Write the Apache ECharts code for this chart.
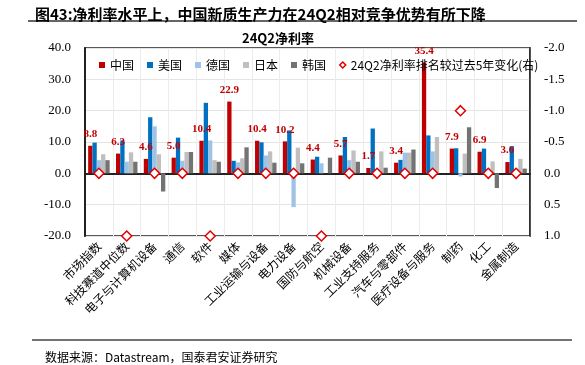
<!DOCTYPE html>
<html>
<head>
<meta charset="utf-8">
<script src="https://cdn.jsdelivr.net/npm/echarts@6/dist/echarts.min.js"></script>
<style>html,body{margin:0;padding:0;background:#fff}#c{width:585px;height:365px}</style>
</head>
<body>
<div id="c"></div>
<script>
var categories = ['市场指数','科技赛道中位数','电子与计算机设备','通信','软件','媒体','工业运输与设备','电力设备','国防与航空','机械设备','工业支持服务','汽车与零部件','医疗设备与服务','制药','化工','金属制造'];
var china   = [8.8, 6.3, 4.6, 5.0, 10.4, 22.9, 10.4, 10.2, 4.4, 5.7, 1.7, 3.4, 35.4, 7.9, 6.9, 3.6];
var usa     = [9.8, 10.5, 17.9, 11.4, 22.5, 4.0, 9.9, 13.7, 5.3, 11.6, 14.3, 4.3, 12.1, 8.0, 7.9, 8.6];
var germany = [4.2, 3.7, 15.0, 4.0, 10.5, 3.5, 5.7, -10.8, 3.2, 4.2, 0, 6.6, 7.0, -1.0, 0, 0];
var japan   = [6.1, 6.7, 6.1, 6.8, 4.2, 4.8, 7.0, 8.2, 0, 7.3, 7.0, 6.6, 11.6, 6.3, 3.8, 4.6];
var korea   = [4.2, 3.7, -5.8, 6.8, 3.7, 8.3, 3.4, 3.2, 5.0, 3.7, 1.8, 7.6, 0, 14.7, -4.7, 1.5];
var rankChange = [0, 1, 0, 0, 1, 0, 0, 0, 1, 0, 0, 0, 0, -1, 0, 0];
var leftTicks = {min: -20, max: 40, interval: 10};
var rightTicks = {min: -2, max: 1, interval: 0.5};

var CJK = '"Noto Sans CJK SC", sans-serif';
var SERIF = '"Liberation Serif", "Times New Roman", serif';

var chart = echarts.init(document.getElementById('c'), null, {renderer: 'canvas'});
function bar(name, data, color, withLabel) {
  var s = {
    name: name, type: 'bar', data: data, barWidth: 4.3, barGap: '0%',
    itemStyle: {color: color}
  };
  if (withLabel) {
    s.label = {show: true, position: 'top', distance: 6, color: '#C00000',
      fontFamily: SERIF, fontWeight: 'bold', fontSize: 11,
      formatter: function (p) { return p.value.toFixed(1); }};
  }
  return s;
}
var option = {
  animation: false,
  backgroundColor: '#fff',
  title: [
    {text: '图43:净利率水平上，中国新质生产力在24Q2相对竞争优势有所下降', left: 30, top: 2,
     textStyle: {fontFamily: CJK, fontSize: 15, fontWeight: 'bold', color: '#000'}},
    {text: '24Q2净利率', left: 237, top: 27,
     textStyle: {fontFamily: CJK, fontSize: 13, fontWeight: 'bold', color: '#000'}},
    {text: '数据来源：Datastream，国泰君安证券研究', left: 40, top: 346,
     textStyle: {fontFamily: CJK, fontSize: 12, fontWeight: 'normal', color: '#000'}}
  ],
  graphic: [
    {type: 'line', shape: {x1: 28, y1: 21, x2: 577, y2: 21}, style: {stroke: '#333', lineWidth: 1.5}},
    {type: 'line', shape: {x1: 32, y1: 340, x2: 572, y2: 340}, style: {stroke: '#444', lineWidth: 1.5}}
  ],
  legend: {
    left: 94, top: 54, itemWidth: 6, itemHeight: 6, itemGap: 13,
    textStyle: {fontFamily: CJK, fontSize: 12, color: '#000'},
    data: [
      {name: '中国', icon: 'rect'}, {name: '美国', icon: 'rect'}, {name: '德国', icon: 'rect'},
      {name: '日本', icon: 'rect'}, {name: '韩国', icon: 'rect'},
      {name: '24Q2净利率排名较过去5年变化(右)', icon: 'diamond',
       itemStyle: {color: '#fff', borderColor: '#E00000', borderWidth: 1.5}}
    ]
  },
  grid: {left: 85, right: 55, top: 48, bottom: 129, show: true, borderColor: '#222', borderWidth: 1.5},
  xAxis: {
    type: 'category', data: categories,
    axisLine: {show: true, lineStyle: {color: '#222', width: 2}},
    axisTick: {show: false},
    splitLine: {show: true, lineStyle: {color: '#ECECEC', width: 1}},
    axisLabel: {interval: 0, rotate: 45, margin: 8, fontFamily: CJK, fontSize: 12, color: '#000'}
  },
  yAxis: [
    {type: 'value', min: leftTicks.min, max: leftTicks.max, interval: leftTicks.interval,
     axisLine: {show: true, lineStyle: {color: '#222', width: 2}},
     axisTick: {show: false},
     splitLine: {show: true, lineStyle: {color: '#E4E4E4', width: 1}},
     axisLabel: {margin: 14, fontFamily: SERIF, fontSize: 13, color: '#000',
       formatter: function (v) { return v.toFixed(1); }}},
    {type: 'value', min: rightTicks.min, max: rightTicks.max, interval: rightTicks.interval, inverse: true,
     position: 'right',
     axisLine: {show: true, lineStyle: {color: '#222', width: 1.5}},
     axisTick: {show: false},
     splitLine: {show: false},
     axisLabel: {margin: 14, fontFamily: SERIF, fontSize: 13, color: '#000',
       formatter: function (v) { return v.toFixed(1); }}}
  ],
  series: [
    bar('中国', china, '#C00000', true),
    bar('美国', usa, '#0070C0'),
    bar('德国', germany, '#9DC3E6'),
    bar('日本', japan, '#BFBFBF'),
    bar('韩国', korea, '#737373'),
    {name: '24Q2净利率排名较过去5年变化(右)', type: 'scatter', yAxisIndex: 1, data: rankChange,
     symbol: 'diamond', symbolSize: 10, z: 5,
     itemStyle: {color: '#fff', borderColor: '#E00000', borderWidth: 1.5, opacity: 1}}
  ]
};
chart.setOption(option);
</script>
</body>
</html>
